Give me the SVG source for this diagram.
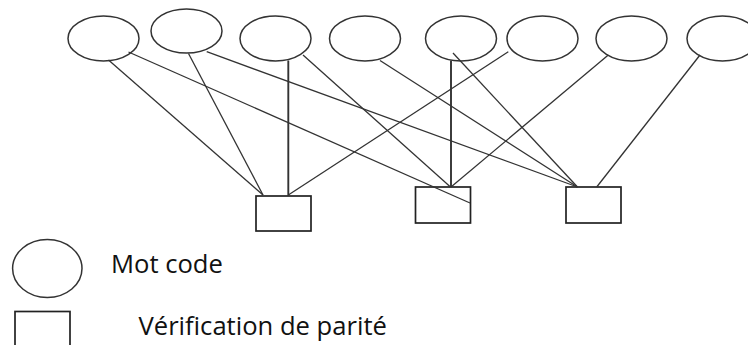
<svg xmlns="http://www.w3.org/2000/svg" width="748" height="345" viewBox="0 0 748 345">
<style>
.var{fill:#fff;stroke:#333;stroke-width:1.5}
.chk{fill:#fff;stroke:#222;stroke-width:1.7}
.edge{stroke:#333;stroke-width:1.3;fill:none}
.v{stroke-width:1.9}
.lbl{font-family:"Open Sans","Noto Sans",sans-serif;font-size:25.6px;fill:#111}
</style>
<rect width="748" height="345" fill="#fff"/>
<g id="E1"><ellipse class="var" cx="103.5" cy="38.5" rx="35.5" ry="22.5"/></g>
<g id="E2"><ellipse class="var" cx="186.5" cy="31" rx="35.5" ry="22"/></g>
<g id="E3"><ellipse class="var" cx="275.5" cy="38.5" rx="35.5" ry="22.5"/></g>
<g id="E4"><ellipse class="var" cx="365" cy="38.5" rx="35.5" ry="22.5"/></g>
<g id="E5"><ellipse class="var" cx="461" cy="38.5" rx="35.5" ry="22.5"/></g>
<g id="E6"><ellipse class="var" cx="542.5" cy="38.5" rx="35.5" ry="22.5"/></g>
<g id="E7"><ellipse class="var" cx="631.5" cy="38.5" rx="35.5" ry="22.5"/></g>
<g id="E8"><ellipse class="var" cx="722.5" cy="38.5" rx="35.5" ry="22.5"/></g>
<g id="R1"><rect class="chk" x="256" y="196" width="55" height="35"/></g>
<g id="R2"><rect class="chk" x="415.5" y="187" width="55" height="36"/></g>
<g id="R3"><rect class="chk" x="566" y="187" width="55" height="36"/></g>
<g id="connectors">
<line class="edge" x1="108.5" y1="60" x2="263" y2="195"/>
<line class="edge" x1="188.5" y1="53.5" x2="263" y2="195"/>
<line class="edge v" x1="288.3" y1="60.5" x2="288.3" y2="196"/>
<line class="edge" x1="508.3" y1="51.7" x2="288.3" y2="195"/>
<line class="edge" x1="128.5" y1="52" x2="470" y2="203"/>
<line class="edge" x1="303" y1="55" x2="450.5" y2="187"/>
<line class="edge v" x1="451" y1="60.5" x2="451" y2="187"/>
<line class="edge" x1="608.3" y1="55" x2="451" y2="187"/>
<line class="edge" x1="206.7" y1="51.7" x2="577.5" y2="187"/>
<line class="edge" x1="380" y1="60.5" x2="577.5" y2="187"/>
<line class="edge" x1="453" y1="53" x2="577.5" y2="187"/>
<line class="edge" x1="700" y1="55" x2="596.7" y2="187"/>
</g>
<g id="legend">
<ellipse class="var" cx="47.3" cy="268.5" rx="34.7" ry="29"/>
<rect class="chk" x="15" y="311.5" width="55" height="40"/>
<text class="lbl" x="111" y="273.3">Mot code</text>
<text class="lbl" x="138.5" y="335">Vérification de parité</text>
</g>
</svg>
